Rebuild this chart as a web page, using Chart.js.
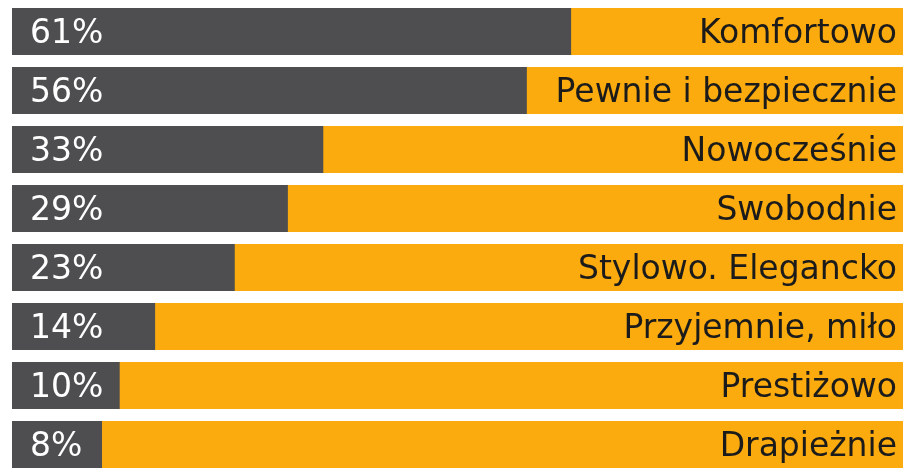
<!DOCTYPE html>
<html>
<head>
<meta charset="utf-8">
<script src="https://cdn.jsdelivr.net/npm/chart.js@4"></script>
<style>
  html, body { margin: 0; padding: 0; background: #fff; overflow: hidden; }
  #wrap { width: 903px; height: 480px; }
</style>
</head>
<body>
<div id="wrap"><canvas id="answersChart" width="903" height="480"></canvas></div>
<script>
const categories = ["Komfortowo", "Pewnie i bezpiecznie", "Nowocześnie", "Swobodnie", "Stylowo. Elegancko", "Przyjemnie, miło", "Prestiżowo", "Drapieżnie"];
const shares = [61, 56, 33, 29, 23, 14, 10, 8];
const totals = [100, 100, 100, 100, 100, 100, 100, 100];

const xMin = -2.17;
const xMax = 98.5;

// white % on the left, category name on the right
const rowLabels = {
  id: "rowLabels",
  afterDatasetsDraw(chart) {
    const ctx = chart.ctx;
    const x = chart.scales.x;
    const y = chart.scales.y;
    ctx.save();
    ctx.textBaseline = "middle";
    categories.forEach((name, i) => {
      const cy = y.getPixelForValue(i) + 3;
      ctx.font = "33px 'DejaVu Sans'";
      ctx.fillStyle = "#ffffff";
      ctx.textAlign = "left";
      ctx.fillText(shares[i] + "%", x.getPixelForValue(xMin) + 18, cy);
      ctx.fillStyle = "#1b1b1b";
      ctx.textAlign = "right";
      ctx.fillText(name, chart.chartArea.right - 6, cy);
    });
    ctx.restore();
  }
};

new Chart(document.getElementById("answersChart").getContext("2d"), {
  type: "bar",
  data: {
    labels: categories,
    datasets: [
      {
        label: "Odpowiedzi",
        data: shares,
        backgroundColor: "#4e4e50",
        base: xMin,
        grouped: false,
        barPercentage: 0.797,
        categoryPercentage: 1
      },
      {
        label: "Razem",
        data: totals,
        backgroundColor: "#fbab0e",
        base: xMin,
        grouped: false,
        barPercentage: 0.797,
        categoryPercentage: 1
      }
    ]
  },
  plugins: [rowLabels],
  options: {
    indexAxis: "y",
    responsive: false,
    animation: false,
    layout: { padding: { left: 12, right: 0, top: 2, bottom: 6 } },
    plugins: {
      legend: { display: false },
      tooltip: { enabled: false }
    },
    scales: {
      x: {
        display: false,
        min: xMin,
        max: xMax
      },
      y: {
        display: false
      }
    }
  }
});
</script>
</body>
</html>
